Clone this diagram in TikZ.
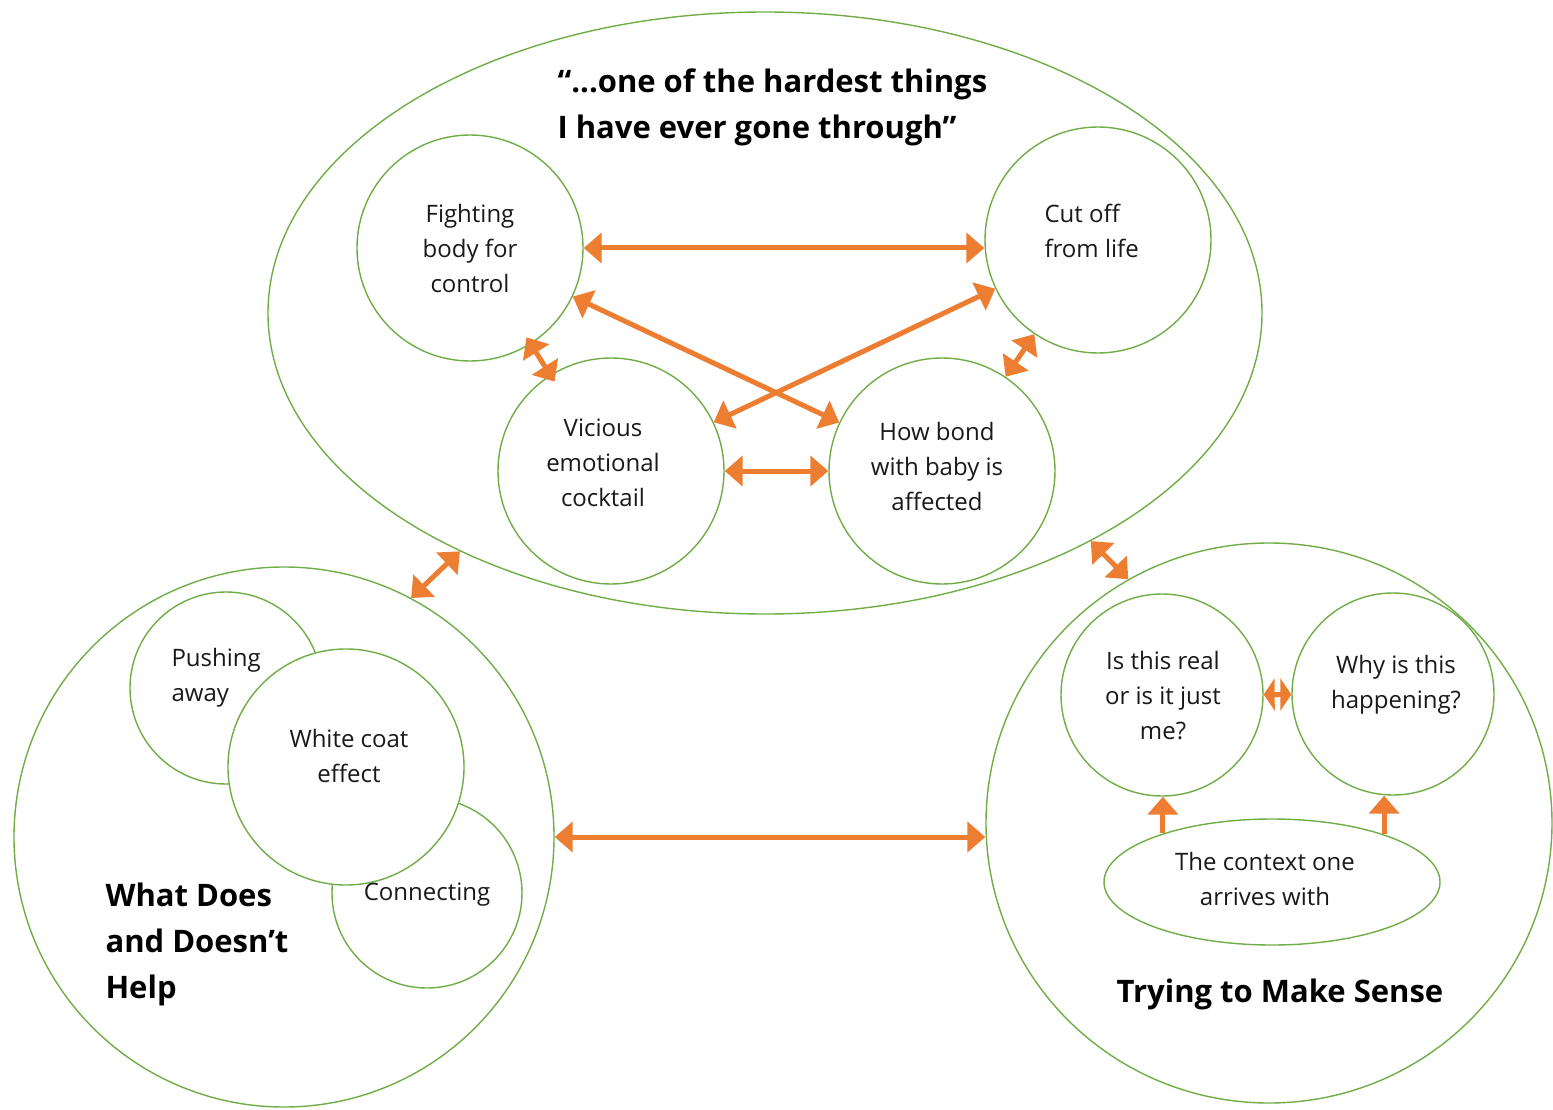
\documentclass[tikz,border=0pt]{standalone}
\usepackage{fontspec}
\setmainfont{Open Sans}
\usetikzlibrary{shapes.geometric,arrows.meta}
\definecolor{leaf}{HTML}{70AD47}
\definecolor{rust}{HTML}{ED7D31}
\tikzset{
  ring/.style={circle,draw=leaf,line width=1.4pt,fill=white,inner sep=0pt},
  oval/.style={ellipse,draw=leaf,line width=1.4pt,fill=white,inner sep=0pt},
  txt/.style={font=\fontsize{24}{35}\selectfont,align=center,text=black!90},
  head/.style={font=\bfseries\fontsize{31}{46}\selectfont,align=left},
  link/.style={draw=rust,line width=5pt,{Triangle[width=30pt,length=18pt]}-{Triangle[width=30pt,length=18pt]}},
  nub/.style={draw=rust,line width=5pt,{Triangle[width=32pt,length=11pt]}-{Triangle[width=32pt,length=11pt]}},
  up/.style={draw=rust,line width=5pt,-{Triangle[width=30pt,length=18pt]}},
}
\begin{document}
\begin{tikzpicture}[x=1pt,y=-1pt]
\useasboundingbox (0,0) rectangle (1553,1110);
\node[oval,minimum width=994pt,minimum height=602pt] (top) at (765,313) {};
\node[ring,minimum size=540pt] (left) at (284,837) {};
\node[oval,minimum width=566pt,minimum height=560pt] (right) at (1269,823) {};
\node[ring,minimum size=226pt] (fight) at (470,248) {};
\node[ring,minimum size=226pt] (cut) at (1098,240) {};
\node[ring,minimum size=226pt] (vic) at (611,471) {};
\node[ring,minimum size=226pt] (bond) at (942,471) {};
\node[ring,minimum size=192pt] (push) at (226,688) {};
\node[ring,minimum size=190pt] (conn) at (427,893) {};
\node[ring,minimum size=236pt] (coat) at (346,767) {};
\node[ring,minimum size=202pt] (real) at (1162,695) {};
\node[ring,minimum size=202pt] (why) at (1393,694) {};
\node[oval,minimum width=336pt,minimum height=126pt] (ctx) at (1272,882) {};
\node[head,anchor=west] (quote) at (554,107) {“...one of the hardest things\\I have ever gone through”};
\node[txt] (fight-t) at (470,248) {Fighting\\body for\\control};
\node[txt,align=left,anchor=west] (cut-t) at (1041,231) {Cut off\\from life};
\node[txt] (vic-t) at (603,463) {Vicious\\emotional\\cocktail};
\node[txt] (bond-t) at (937,466) {How bond\\with baby is\\affected};
\node[txt,align=left,anchor=west] (push-t) at (168,678) {Pushing\\away};
\node[txt] (coat-t) at (349,756) {White coat\\effect};
\node[txt] (conn-t) at (427,895) {Connecting};
\node[txt] (real-t) at (1163,696) {Is this real\\or is it just\\me?};
\node[txt] (why-t) at (1396,685) {Why is this\\happening?};
\node[txt] (ctx-t) at (1265,879) {The context one\\arrives with};
\node[head,anchor=west] (help) at (102,944) {What Does\\and Doesn’t\\Help};
\node[head] (sense) at (1280,994) {Trying to Make Sense};
\draw[link] (fight.east) -- (fight.east -| cut.west);
\draw[link] (fight) -- (bond);
\draw[link] (cut) -- (vic);
\draw[link,shorten <=-8pt,shorten >=-8pt] (fight) -- (vic);
\draw[link] (cut) -- (bond);
\draw[link] (vic) -- (bond);
\draw[link] (top.218) -- (left.62);
\draw[link] (top.325) -- (right.120);
\draw[link] (left.east) -- (left.east -| right.west);
\draw[nub] (real) -- (why);
\draw[up] (ctx.156) -- (ctx.156 |- real.south);
\draw[up] (ctx.23) -- (ctx.23 |- why.south);
\end{tikzpicture}
\end{document}
